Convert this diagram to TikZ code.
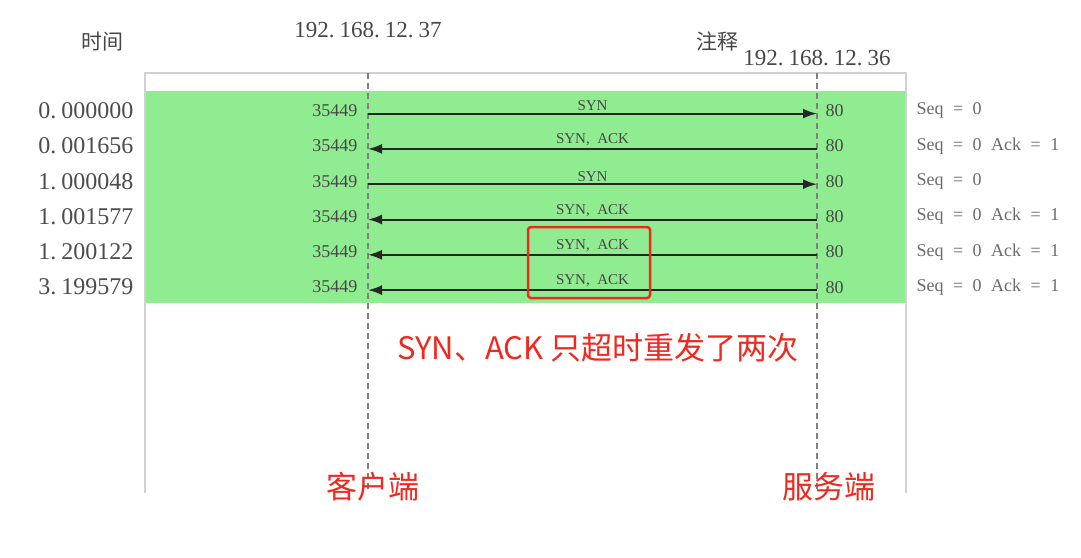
\documentclass[tikz,border=0pt]{standalone}
\usepackage{fontspec}
\setmainfont{Liberation Serif}
\newfontfamily\cjk{Noto Sans CJK SC}
\usetikzlibrary{positioning}
\usetikzlibrary{arrows.meta}
\definecolor{band}{RGB}{144,236,144}
\definecolor{alertred}{RGB}{240,40,30}
\newcommand\gap{\hspace{9.5pt}}
\newcommand\dotgap{\hspace{5pt}}

\begin{document}
\begin{tikzpicture}[x=1pt,y=-1pt,
                    frame/.style={draw=black!18,line width=1.2pt},
                    life/.style={draw=black!50,line width=1.2pt,
                      dash pattern=on 6pt off 4pt},
                    msg/.style={draw=black!85,line width=2pt,
                      -{Latex[length=14pt,width=10pt]}},
                    time/.style={anchor=east,text=black!70,
                      font=\fontsize{24}{27}\selectfont},
                    port/.style={text=black!72,
                      font=\fontsize{18}{20}\selectfont},
                    note/.style={anchor=west,text=black!58,
                      font=\fontsize{18}{20}\selectfont},
                    lab/.style={above,inner sep=2pt,text=black!72,
                      font=\fontsize{15}{17}\selectfont},
                    head/.style={text=black!72,
                      font=\fontsize{23}{26}\selectfont},
                    cjkhead/.style={text=black!72,
                      font=\cjk\fontsize{21}{24}\selectfont},
                    redtext/.style={text=alertred,
                      font=\cjk\fontsize{31}{34}\selectfont}]
\useasboundingbox (0,0) rectangle (1081,557);
% frame and band
\fill[band] (145,91) rectangle (906,303);
\draw[frame] (145,493) -- (145,73) -- (906,73) -- (906,493);
% headers
\node[cjkhead] (h1) at (102,42) {时间};
\node[head] (h2) at (368,30) {192.\dotgap168.\dotgap12.\dotgap37};
\node[cjkhead] (h3) at (717,41) {注释};
\node[head] (h4) at (817,58) {192.\dotgap168.\dotgap12.\dotgap36};
% lifelines
\coordinate (ctop) at (368,73);
\coordinate (cbot) at (368,492);
\coordinate (stop) at (817,73);
\coordinate (sbot) at (817,492);
\draw[life] (ctop) -- (cbot);
\draw[life] (stop) -- (sbot);
% rows
\foreach \i/\t/\n in {1/0.\dotgap000000/{Seq\gap=\gap0},
                      2/0.\dotgap001656/{Seq\gap=\gap0\gap Ack\gap=\gap1},
                      3/1.\dotgap000048/{Seq\gap=\gap0},
                      4/1.\dotgap001577/{Seq\gap=\gap0\gap Ack\gap=\gap1},
                      5/1.\dotgap200122/{Seq\gap=\gap0\gap Ack\gap=\gap1},
                      6/3.\dotgap199579/{Seq\gap=\gap0\gap Ack\gap=\gap1}} {
  \node[time] (t\i) at (137,75.3+35.3*\i) {\t};
  \node[port,anchor=east] (p\i) at (361,75.3+35.3*\i) {35449};
  \node[port,anchor=west] (q\i) at (822,75.3+35.3*\i) {80};
  \node[note] (n\i) at (913,75.3+35.3*\i) {\n};
  \coordinate (c\i) at (368,78.3+35.3*\i);
  \coordinate (s\i) at (817,78.3+35.3*\i);
}
% messages
\draw[msg] (c1) -- node[lab] {SYN} (s1);
\draw[msg] (s2) -- node[lab] {SYN,\enspace ACK} (c2);
\draw[msg] (c3) -- node[lab] {SYN} (s3);
\draw[msg] (s4) -- node[lab] {SYN,\enspace ACK} (c4);
\draw[msg] (s5) -- node[lab] (m5) {SYN,\enspace ACK} (c5);
\draw[msg] (s6) -- node[lab] (m6) {SYN,\enspace ACK} (c6);
% retransmission mark
\node[draw=alertred,line width=2.5pt,rounded corners=3pt,
      minimum width=122pt,minimum height=71pt] (r) at (589,262.5) {};
\node[redtext] (x) at (598,348) {SYN、ACK 只超时重发了两次};
\node[redtext] (cl) at (373,487) {客户端};
\node[redtext] (sv) at (829,487) {服务端};
\end{tikzpicture}
\end{document}
